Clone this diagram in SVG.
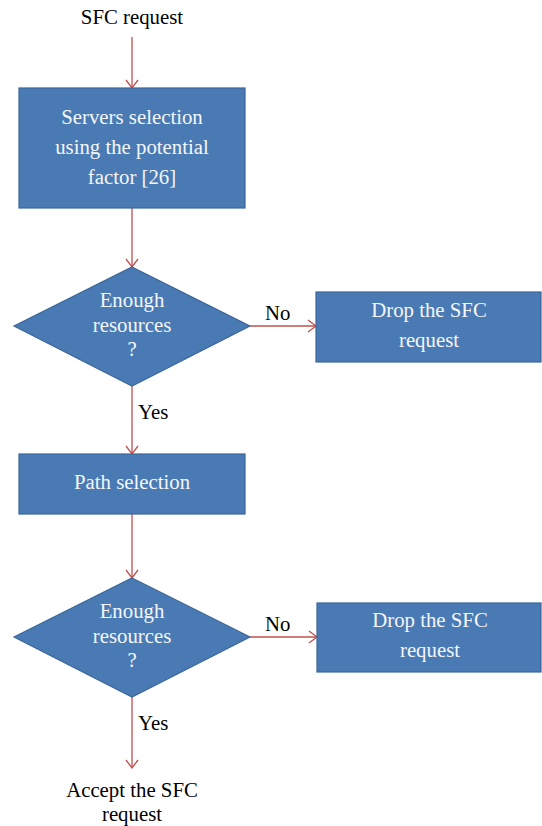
<svg xmlns="http://www.w3.org/2000/svg" width="542" height="826" viewBox="0 0 542 826">
<style>
.box{fill:#4a7ab4;stroke:#3b6699;stroke-width:1.2}
.in{font-family:"Liberation Serif",serif;font-size:20.8px;fill:#f4f6fa;text-anchor:middle}
.out{font-family:"Liberation Serif",serif;font-size:20.8px;fill:#000;text-anchor:middle}
.lbl{font-family:"Liberation Serif",serif;font-size:20.8px;fill:#000}
.c{stroke:#c0504d;stroke-width:1.3;fill:none;marker-end:url(#ah)}
</style>
<defs>
<marker id="ah" markerUnits="userSpaceOnUse" markerWidth="20" markerHeight="20" viewBox="-10 -10 20 20" refX="0" refY="0" orient="auto">
<path d="M-8,-6 L0,0 L-8,6" fill="none" stroke="#c0504d" stroke-width="1.3"/>
</marker>
</defs>
<g id="connectors">
<line class="c" x1="132" y1="37" x2="132" y2="88"/>
<line class="c" x1="132" y1="208" x2="132" y2="267"/>
<line class="c" x1="250" y1="326" x2="316" y2="326"/>
<line class="c" x1="132" y1="386" x2="132" y2="454"/>
<line class="c" x1="132" y1="514" x2="132" y2="578"/>
<line class="c" x1="250" y1="637" x2="317" y2="637"/>
<line class="c" x1="132" y1="697" x2="132" y2="768"/>
<text class="lbl" x="265" y="320">No</text>
<text class="lbl" x="138" y="419">Yes</text>
<text class="lbl" x="265" y="631">No</text>
<text class="lbl" x="138" y="730">Yes</text>
</g>
<g id="start"><text class="out" x="132" y="24">SFC request</text></g>
<g id="servers">
<rect class="box" x="19" y="88" width="226" height="120"/>
<text class="in" x="132" y="124">Servers selection</text>
<text class="in" x="132" y="154">using the potential</text>
<text class="in" x="132" y="184">factor [26]</text>
</g>
<g id="dec1">
<polygon class="box" points="132,267 250,326 132,386 14,326"/>
<text class="in" x="132" y="307">Enough</text>
<text class="in" x="132" y="332">resources</text>
<text class="in" x="132" y="356">?</text>
</g>
<g id="drop1">
<rect class="box" x="316" y="292" width="225" height="70"/>
<text class="in" x="429" y="317">Drop the SFC</text>
<text class="in" x="429" y="347">request</text>
</g>
<g id="path">
<rect class="box" x="19" y="454" width="226" height="60"/>
<text class="in" x="132" y="489">Path selection</text>
</g>
<g id="dec2">
<polygon class="box" points="132,578 250,637 132,697 14,637"/>
<text class="in" x="132" y="618">Enough</text>
<text class="in" x="132" y="643">resources</text>
<text class="in" x="132" y="667">?</text>
</g>
<g id="drop2">
<rect class="box" x="317" y="603" width="224" height="69"/>
<text class="in" x="430" y="627">Drop the SFC</text>
<text class="in" x="430" y="657">request</text>
</g>
<g id="accept">
<text class="out" x="132" y="797">Accept the SFC</text>
<text class="out" x="132" y="821">request</text>
</g>
</svg>
